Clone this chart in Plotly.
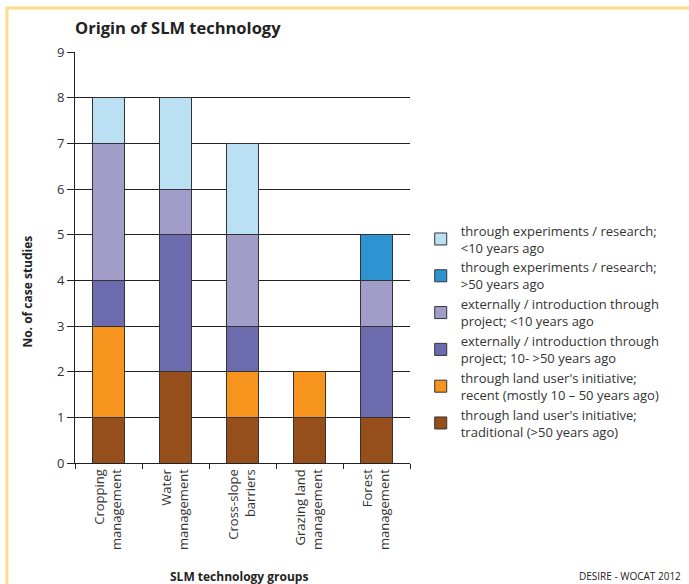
import plotly.graph_objects as go

# categories and stacked values (no. of case studies)
groups = ["Cropping<br>management", "Water<br>management", "Cross-slope<br>barriers",
          "Grazing land<br>management", "Forest<br>management"]

traditional = [1, 2, 1, 1, 1]
recent = [2, 0, 1, 1, 0]
ext_old = [1, 3, 1, 0, 2]
ext_new = [3, 1, 2, 0, 1]
exp_old = [0, 0, 0, 0, 1]
exp_new = [1, 2, 2, 0, 0]

series_names = [
    "through land user's initiative;<br>traditional (>50 years ago)",
    "through land user's initiative;<br>recent (mostly 10 \u2013 50 years ago)",
    "externally / introduction through<br>project; 10- >50 years ago",
    "externally / introduction through<br>project; <10 years ago",
    "through experiments / research;<br>>50 years ago",
    "through experiments / research;<br><10 years ago",
]
series_values = [traditional, recent, ext_old, ext_new, exp_old, exp_new]
colors = ["#964F1B", "#F7941D", "#6B6BAE", "#A29DC8", "#2E94D1", "#BBDFF3"]

font_family = "Open Sans, Noto Sans, sans-serif"
text_col = "#333333"

fig = go.Figure()

for name, vals, col in zip(series_names, series_values, colors):
    fig.add_trace(go.Bar(
        x=groups, y=vals, name=name,
        marker=dict(color=col, line=dict(color="#333333", width=1)),
        width=0.48,
    ))

fig.update_layout(
    width=689, height=584,
    barmode="stack",
    paper_bgcolor="#fff", plot_bgcolor="#fff",
    margin=dict(l=75, r=279, t=52, b=121),
    font=dict(family=font_family, color=text_col, size=13),
    title=dict(text="<b>Origin of SLM technology</b>", x=0, xref="paper", xanchor="left",
               y=1 - 28 / 584, yanchor="middle", font=dict(size=16.5, color="#222")),
    xaxis=dict(
        type="category", tickangle=-90, showgrid=False,
        showline=True, linecolor="#222", linewidth=1,
        ticks="outside", tickson="boundaries", ticklen=5, tickcolor="#222",
        tickfont=dict(size=13, color=text_col),
    ),
    yaxis=dict(
        range=[0, 9], dtick=1, showgrid=True, gridcolor="#222", gridwidth=1,
        showline=True, linecolor="#222", linewidth=1, zeroline=False,
        ticks="outside", ticklen=7, tickcolor="#222",
        tickfont=dict(size=13, color=text_col),
    ),
    legend=dict(
        x=1.032, xanchor="left", y=0.602, yanchor="top",
        traceorder="reversed", font=dict(size=13, color=text_col),
        bgcolor="rgba(0,0,0,0)",
    ),
    bargap=0.52,
)

fig.add_annotation(text="<b>No. of case studies</b>", textangle=-90, x=-0.176, y=0.416,
                   xref="paper", yref="paper", showarrow=False, font=dict(size=12, color="#222"))
fig.add_annotation(text="<b>SLM technology groups</b>", x=0.49, y=-0.301,
                   xref="paper", yref="paper", showarrow=False, font=dict(size=12, color="#222"))
fig.add_annotation(text="DESIRE - WOCAT 2012", x=1.815, xanchor="right", y=-0.297,
                   xref="paper", yref="paper", showarrow=False, font=dict(size=10, color="#222"))

# yellow frame lines (left and top)
fig.add_shape(type="line", xref="paper", yref="paper", x0=-0.203, x1=-0.203, y0=1.107, y1=-0.3,
              line=dict(color="#FDDC8A", width=3))
fig.add_shape(type="line", xref="paper", yref="paper", x0=-0.207, x1=1.84, y0=1.107, y1=1.107,
              line=dict(color="#FDDC8A", width=3))

# drop the default page margin so the figure sits at the top-left corner
fig.write_html("out.html", config={"displayModeBar": False},
               post_script="document.body.style.margin='0';")
